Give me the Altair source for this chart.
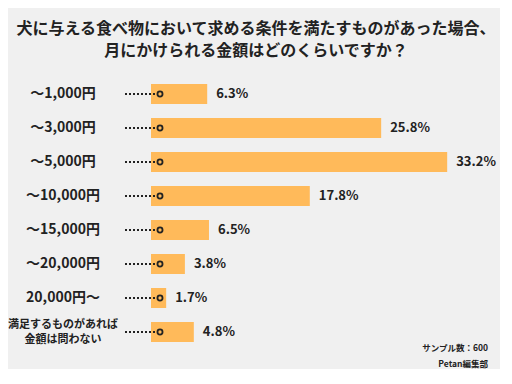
import altair as alt
import pandas as pd

categories = ["〜1,000円", "〜3,000円", "〜5,000円", "〜10,000円", "〜15,000円",
              "〜20,000円", "20,000円〜", "満足するものがあれば|金額は問わない"]
values = [6.3, 25.8, 33.2, 17.8, 6.5, 3.8, 1.7, 4.8]
title_lines = ["犬に与える食べ物において求める条件を満たすものがあった場合、",
               "月にかけられる金額はどのくらいですか？"]
footer_lines = ["サンプル数：600", "Petan編集部"]

df = pd.DataFrame({
    "cat": categories,
    "val": values,
    "label": [f"{v}%" for v in values],
    "first": [c.split("|")[0] for c in categories],
    "second": [c.split("|")[1] if "|" in c else "" for c in categories],
})

FONT = "Noto Sans CJK JP"
BAR = "#FFBA5A"

yenc = alt.Y("cat:N", sort=categories, axis=None,
             scale=alt.Scale(domain=categories, paddingInner=0.41, paddingOuter=0.205))
xscale = alt.Scale(domain=[0, 38])

base = alt.Chart(df)

bars = base.mark_bar(color=BAR).encode(
    x=alt.X("val:Q", scale=xscale, axis=None),
    y=yenc,
)

vals = base.mark_text(align="left", baseline="middle", dx=9, font=FONT,
                      fontSize=13, fontWeight="bold", color="#222").encode(
    x=alt.X("val:Q", scale=xscale),
    y=yenc,
    text="label:N",
)

dots = base.mark_rule(color="#222", strokeWidth=2, strokeDash=[2, 2]).encode(
    x=alt.value(-26), x2=alt.value(6),
    y=yenc,
)

circles = base.mark_point(shape="circle", filled=False, color="#222",
                          strokeWidth=1.8, size=26, opacity=1).encode(
    x=alt.value(9),
    y=yenc,
)

cat_labels = base.transform_filter(
    alt.datum.second == ""
).mark_text(align="center", baseline="middle", font=FONT, fontSize=14,
            fontWeight="bold", color="#222").encode(
    x=alt.value(-88),
    y=yenc,
    text="first:N",
)

last_first = base.transform_filter(
    alt.datum.second != ""
).mark_text(align="center", baseline="middle", font=FONT, fontSize=11,
            dy=-7, fontWeight="bold", color="#222").encode(
    x=alt.value(-88),
    y=yenc,
    text="first:N",
)

last_second = base.transform_filter(
    alt.datum.second != ""
).mark_text(align="center", baseline="middle", font=FONT, fontSize=11,
            dy=8, fontWeight="bold", color="#222").encode(
    x=alt.value(-88),
    y=yenc,
    text="second:N",
)


def text_line(txt, x, y, size, align):
    return alt.Chart(pd.DataFrame({"t": [txt]})).mark_text(
        align=align, baseline="middle", font=FONT, fontSize=size,
        fontWeight="bold", color="#222"
    ).encode(x=alt.value(x), y=alt.value(y), text="t:N")


title1 = text_line(title_lines[0], 105, -48, 16, "center")
title2 = text_line(title_lines[1], 105, -26, 16, "center")
foot1 = text_line(footer_lines[0], 337, 271, 8.5, "right")
foot2 = text_line(footer_lines[1], 337, 287, 8.5, "right")

chart = alt.layer(bars, dots, circles, vals, cat_labels, last_first, last_second,
                  title1, title2, foot1, foot2).properties(
    width=339, height=272,
    autosize=alt.AutoSizeParams(type="none"),
    padding={"left": 143, "top": 69, "right": 10, "bottom": 20},
    background="#F0F0F0",
).configure_view(stroke=None)

chart.save("out.html", embed_options={"renderer": "svg", "actions": False})
